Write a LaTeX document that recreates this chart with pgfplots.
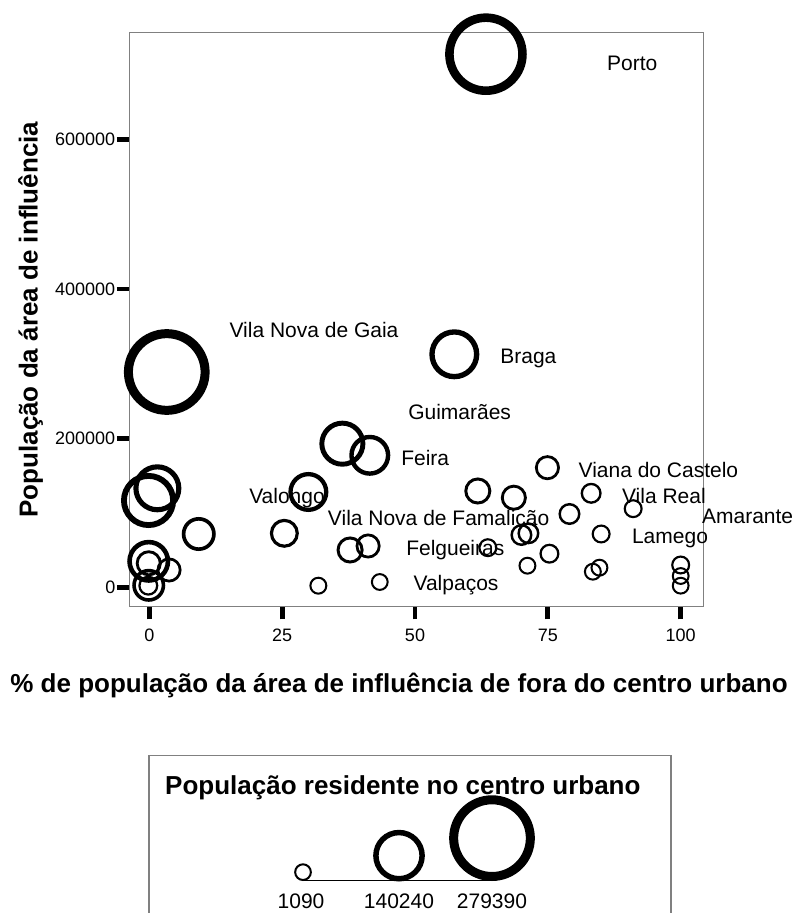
\documentclass[border=0pt]{standalone}
\usepackage{fontspec}
\setmainfont{Liberation Sans}
\usepackage{pgfplots}
\pgfplotsset{compat=1.18}
\usepackage{pgfplotstable}

\pgfplotstableread{
x y pop
63.35 714200 262700
3.28 288750 279390
57.4 312450 133300
1.51 133060 125200
-0.15 116730 153800
9.30 71890 67800
-0.11 35340 104600
-0.11 32660 35000
3.71 23700 30900
-0.11 3210 63700
-0.19 2680 10500
25.41 72820 47300
29.93 128110 92400
36.33 192770 116900
41.49 177240 96500
37.78 50470 39200
41.17 55820 30900
31.81 2680 2200
43.37 7630 1500
74.92 160640 30900
61.82 129450 39200
68.60 120480 35000
83.15 126370 14700
79.07 98660 18700
91.06 105760 6400
70.03 70550 18700
71.35 72820 18700
85.03 71890 6400
63.71 53550 6400
75.30 45520 10500
71.16 29450 1900
84.71 26770 1900
83.47 21420 1900
100 30390 6400
100 15660 1500
100 2680 1500
}\bubbles

\pgfplotstableread{
x y pop
303 40.85 1090
399 57.35 140240
492 74.85 279390
}\legbubbles

\pgfplotsset{
  bubble/.style={
    scatter, only marks, mark=o, draw=black,
    point meta=\thisrow{pop},
    point meta min=1090, point meta max=279390,
    scatter/@pre marker code/.code={%
      \pgfmathsetmacro\bubT{\pgfplotspointmetatransformed/1000}%
      \pgfmathsetmacro\bubR{7.85+30.5*\bubT}%
      \pgfmathsetmacro\bubW{2+7*\bubT}%
      \scope[mark size=\bubR pt, line width=\bubW pt, draw=black]%
    },
    scatter/@post marker code/.code={\endscope},
  },
}
\tikzset{dlab/.style={anchor=base west, font=\fontsize{21}{24}\selectfont, inner sep=0pt}}

\begin{document}
\begin{tikzpicture}
\path[use as bounding box] (0pt,0pt) rectangle (797pt,913pt);

\begin{axis}[
  at={(129.3pt,306pt)}, anchor=south west,
  scale only axis, width=573.7pt, height=574.5pt,
  xmin=-3.77, xmax=104.2, ymin=-25840, ymax=743240,
  xtick={0,25,50,75,100}, ytick={0,200000,400000,600000},
  scaled y ticks=false,
  yticklabel style={/pgf/number format/fixed, /pgf/number format/1000 sep={}, xshift=2pt},
  xticklabel style={yshift=-6pt},
  tick align=outside, tick pos=left,
  major tick length=12.5pt,
  major tick style={black, line width=4.7pt},
  axis line style={draw=gray, line width=1pt},
  tick label style={font=\fontsize{18}{20}\selectfont},
  /pgf/number format/assume math mode=true,
  clip=false,
]
\addplot[bubble] table[x=x, y=y] {\bubbles};

\node[dlab] at (axis cs:86.11,692100) {Porto};
\node[dlab] at (axis cs:15.06,334270) {Vila Nova de Gaia};
\node[dlab] at (axis cs:66.02,299470) {Braga};
\node[dlab] at (axis cs:48.70,225170) {Guimarães};
\node[dlab] at (axis cs:47.38,163590) {Feira};
\node[dlab] at (axis cs:80.76,147260) {Viana do Castelo};
\node[dlab] at (axis cs:88.93,112990) {Vila Real};
\node[dlab] at (axis cs:103.99,86210) {Amarante};
\node[dlab] at (axis cs:33.58,83000) {Vila Nova de Famalicão};
\node[dlab] at (axis cs:18.77,112990) {Valongo};
\node[dlab] at (axis cs:48.32,42440) {Felgueiras};
\node[dlab] at (axis cs:90.81,58500) {Lamego};
\node[dlab] at (axis cs:49.70,-4016) {Valpaços};
\end{axis}

% axis titles
\node[rotate=90, inner sep=0pt, font=\bfseries\fontsize{26}{30}\selectfont] at (30.5pt,593.3pt) {População da área de influência};
\node[anchor=base, inner sep=0pt, font=\bfseries\fontsize{26}{30}\selectfont] at (399pt,220.5pt) {\% de população da área de influência de fora do centro urbano};

% size legend
\draw[gray, line width=1.5pt] (148.8pt,-10pt) -- (148.8pt,157.5pt) -- (671pt,157.5pt) -- (671pt,-10pt);
\node[anchor=base west, inner sep=0pt, font=\bfseries\fontsize{26}{30}\selectfont] at (165pt,118pt) {População residente no centro urbano};

\begin{axis}[
  at={(0pt,0pt)}, anchor=south west,
  scale only axis, width=797pt, height=913pt,
  xmin=0, xmax=797, ymin=0, ymax=913,
  hide axis, clip=false,
]
\addplot[black, line width=1pt] coordinates {(303,32) (492,32)};
\addplot[bubble] table[x=x, y=y] {\legbubbles};
\node[anchor=base, inner sep=0pt, font=\fontsize{21}{24}\selectfont] at (axis cs:301,5) {1090};
\node[anchor=base, inner sep=0pt, font=\fontsize{21}{24}\selectfont] at (axis cs:399,5) {140240};
\node[anchor=base, inner sep=0pt, font=\fontsize{21}{24}\selectfont] at (axis cs:492,5) {279390};
\end{axis}
\end{tikzpicture}
\end{document}
